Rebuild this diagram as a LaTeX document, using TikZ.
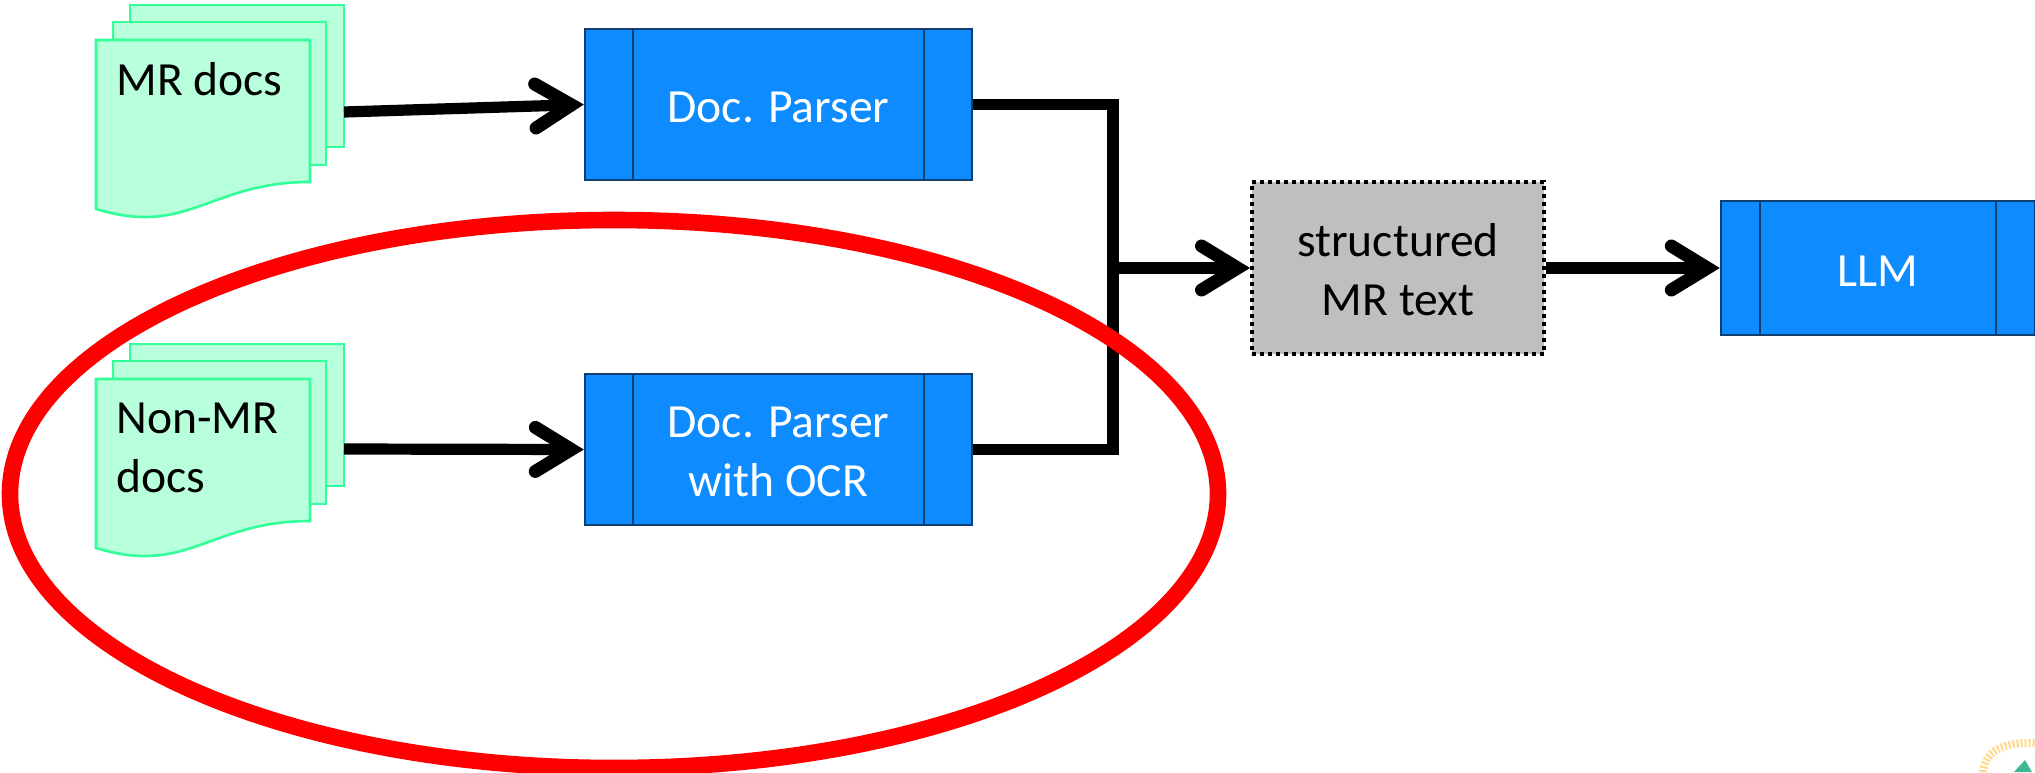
\documentclass[tikz,border=0pt]{standalone}
\usepackage{fontspec}
\setmainfont{Carlito}
\usetikzlibrary{arrows.meta,calc,shapes.geometric}
\definecolor{docfill}{HTML}{B8FFDC}
\definecolor{docline}{HTML}{33FF99}
\definecolor{blue1}{HTML}{0D8BFF}
\definecolor{blue2}{HTML}{0F3F70}
\definecolor{gray1}{HTML}{BFBFBF}
\definecolor{logoy}{HTML}{FFD98A}
\definecolor{logog}{HTML}{3DB892}
\tikzset{
  x=0.5pt,y=-0.5pt,
  sheet/.style={draw=docline,fill=docfill,line width=1.3pt},
  procbox/.style={draw=blue2,fill=blue1,line width=1.2pt,inner sep=0pt,rectangle},
  proctext/.style={text=white,align=center,font=\fontsize{23.8}{29.5}\selectfont,inner sep=0pt},
  doclabel/.style={text=black,align=left,anchor=north west,font=\fontsize{23.8}{29.5}\selectfont,inner sep=0pt},
  flow/.style={line width=5.6pt,draw=black,-{Straight Barb[line cap=round,line join=miter,length=18pt,width=22pt,line width=6.5pt]}},
  wire/.style={line width=5.6pt,draw=black},
}
\newcommand{\docstack}[1]{%
  \begin{scope}[yshift=#1]
  \path[sheet] (130,5) -- (344,5) -- (344,147) -- (130,147) -- cycle;
  \path[sheet] (113,22) -- (326,22) -- (326,165) -- (113,165) -- cycle;
  \path[sheet] (96,40) -- (310,40) -- (310,182)
     .. controls (230,182) and (200,217) .. (145,217)
     .. controls (125,217) and (110,213) .. (96,209) -- cycle;
  \end{scope}}
\begin{document}
\begin{tikzpicture}
\useasboundingbox (0,0) rectangle (2035,772);
\clip (0,0) rectangle (2035,772);
\docstack{0pt}
\docstack{-169.5pt}
\coordinate (s1) at (344,112);
\coordinate (s2) at (344,449);
\node[doclabel] (t1) at (116,62) {MR docs};
\node[doclabel] (t2) at (116,403) {Non-MR\\docs};
\node[procbox,minimum width=193.5pt,minimum height=75.5pt] (p1) at (778.5,104.5) {};
\node[procbox,minimum width=193.5pt,minimum height=75.5pt] (p2) at (778.5,449.5) {};
\node[procbox,minimum width=157pt,minimum height=67pt] (llm) at (1878,268) {};
\node[proctext] (p1t) at ([yshift=-1.5pt]p1.center) {Doc. Parser};
\node[proctext] (p2t) at ([yshift=-1pt]p2.center) {Doc. Parser\\with OCR};
\node[proctext] (llmt) at ([yshift=-1.5pt]llm.center) {LLM};
\draw[blue2,line width=1.2pt] (633,29) -- (633,180) (924,29) -- (924,180);
\draw[blue2,line width=1.2pt] (633,374) -- (633,526) (924,374) -- (924,526);
\draw[blue2,line width=1.2pt] (1760,201) -- (1760,335) (1996,201) -- (1996,335);
\node[draw=black,fill=gray1,dash pattern=on 2pt off 2pt,line width=2pt,minimum width=146pt,minimum height=86pt,inner sep=0pt] (g) at (1398,268) {};
\node[text=black,align=center,inner sep=0pt,font=\fontsize{23.8}{29.5}\selectfont] (gt) at ([yshift=-1pt]g.center) {structured\\MR text};
\coordinate (j) at (1107,268);
\draw[flow] (s1) -- (p1.west);
\draw[flow] (s2) -- (p2.west);
\draw[wire,line join=miter] (p1.east) -- (1113,104.5) -- (1113,449.5) -- (p2.east);
\draw[flow] (j) -- (g.west);
\draw[flow] (g.east) -- (llm.west);
\node[draw=red,line width=8.3pt,ellipse,minimum width=604pt,minimum height=274pt,inner sep=0pt] (oval) at (614,494) {};
\draw[logoy,line width=4pt,dash pattern=on 1pt off 1pt] (1983,772) .. controls (1985,750) and (2005,742) .. (2035,743);
\fill[logog] (2014,772) -- (2025,760) -- (2032,772) -- cycle;
\end{tikzpicture}
\end{document}
